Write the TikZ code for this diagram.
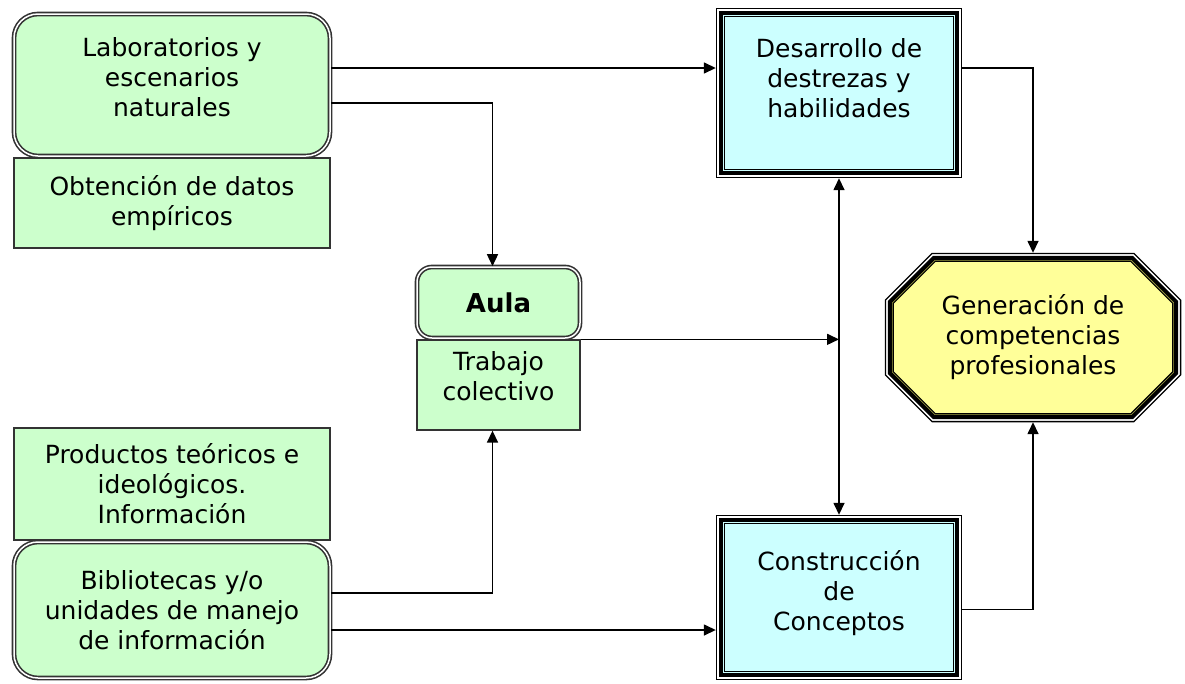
\documentclass[tikz,border=0pt]{standalone}
\usepackage{fontspec}
\setmainfont{DejaVu Sans}
\usetikzlibrary{arrows.meta,backgrounds}
\definecolor{verde}{RGB}{204,255,204}
\definecolor{celeste}{RGB}{204,255,255}
\definecolor{amarillo}{RGB}{255,255,153}
\definecolor{oliva}{RGB}{160,160,70}
% marco rectangular metido #2 dentro del nodo #1
\newcommand\caja[2]{([shift={(#2,-#2)}]#1.north west) rectangle ([shift={(-#2,#2)}]#1.south east)}
% octagono metido #2 dentro del nodo #1
\newcommand\octagono[2]{([shift={(47pt+0.414*#2,-#2)}]#1.north west) -- ([shift={(-47pt-0.414*#2,-#2)}]#1.north east)
 -- ([shift={(-#2,-47pt-0.414*#2)}]#1.north east) -- ([shift={(-#2,47pt+0.414*#2)}]#1.south east)
 -- ([shift={(-47pt-0.414*#2,#2)}]#1.south east) -- ([shift={(47pt+0.414*#2,#2)}]#1.south west)
 -- ([shift={(#2,47pt+0.414*#2)}]#1.south west) -- ([shift={(#2,-47pt-0.414*#2)}]#1.north west) -- cycle}
\begin{document}
\begin{tikzpicture}[x=1pt,y=-1pt,
  texto/.style={font=\fontsize{25}{30}\selectfont, align=center, inner sep=0pt},
  redondo/.style={texto, draw=black!80, double=white, line width=1.6pt, double distance=1.5pt, fill=verde, rounded corners=24pt},
  plano/.style={texto, draw=black!80, line width=1.3pt, fill=verde},
  capa1/.style={draw=black, line width=1.3pt, fill=white},
  capa2/.style={draw=black, line width=4pt, fill=#1},
  capa3/.style={draw=black, line width=1.2pt, fill=#1},
  flecha/.style={-{Triangle[length=12pt,width=11pt]}, line width=1.5pt},
  flecha2/.style={{Triangle[length=12pt,width=11pt]}-{Triangle[length=12pt,width=11pt]}, line width=1.5pt}]
\useasboundingbox (0,0) rectangle (1185,683);

\node[redondo, minimum width=316pt, minimum height=142pt] (lab) at (172,85) {Laboratorios y\\escenarios\\naturales\\[-14pt]\mbox{}};
\node[plano, minimum width=316pt, minimum height=90pt] (obt) at (172,203) {Obtención de datos\\empíricos};
\node[plano, minimum width=316pt, minimum height=112pt] (prod) at (172,484) {Productos teóricos e\\ideológicos.\\Información};
\node[redondo, minimum width=316pt, minimum height=136pt] (bib) at (172,610) {Bibliotecas y/o\\unidades de manejo\\de información};

\node[redondo, rounded corners=15pt, minimum width=163pt, minimum height=71pt, font=\fontsize{26}{30}\selectfont\bfseries] (aula) at (498.5,302.5) {Aula};
\node[plano, minimum width=163pt, minimum height=90pt] (trab) at (498.5,385) {Trabajo\\colectivo\\[-12pt]\mbox{}};

\node[texto, minimum width=246pt, minimum height=170pt] (des) at (839,93) {Desarrollo de\\destrezas y\\habilidades\\ \mbox{}};
\node[texto, minimum width=246pt, minimum height=165pt] (con) at (839,597.5) {Construcción\\de\\Conceptos\\[-16pt]\mbox{}};
\node[texto, minimum width=296pt, minimum height=169pt] (gen) at (1033,337.5) {Generación de\\competencias\\profesionales};

\begin{scope}[on background layer]
\foreach \n in {des,con}{
  \filldraw[capa1] \caja{\n}{0.6pt};
  \filldraw[capa2=celeste] \caja{\n}{5.5pt};
  \filldraw[capa3=celeste] \caja{\n}{9pt};
}
\filldraw[capa1] \octagono{gen}{0.6pt};
\filldraw[capa2=oliva] \octagono{gen}{5pt};
\filldraw[capa3=amarillo] \octagono{gen}{8.5pt};
\end{scope}

\draw[flecha] ([yshift=17pt]lab.east) coordinate (l1) -- (l1 -| des.west);
\draw[flecha] ([yshift=-18pt]lab.east) -| ([xshift=-6pt]aula.north);
\draw[flecha] (l1 -| des.east) -| (gen.north);
\draw[flecha] (trab.north east) -- (trab.north east -| des.south);
\draw[flecha2] (des.south) -- (con.north);
\draw[flecha] ([yshift=-12pt]con.east) -| (gen.south);
\draw[flecha] ([yshift=17pt]bib.east) -| ([xshift=-6pt]trab.south);
\draw[flecha] ([yshift=-20pt]bib.east) coordinate (b2) -- (b2 -| con.west);
\end{tikzpicture}
\end{document}
